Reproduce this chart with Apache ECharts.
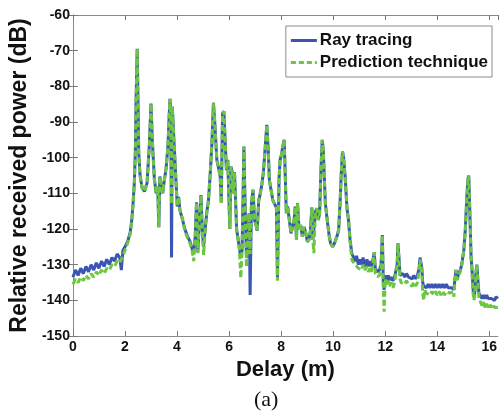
<!DOCTYPE html>
<html>
<head>
<meta charset="utf-8">
<title>Relative received power vs delay</title>
<script src="https://cdn.jsdelivr.net/npm/echarts@6/dist/echarts.min.js"></script>
<style>
  html, body { margin: 0; padding: 0; background: #ffffff; }
  #chart { width: 500px; height: 414px; }
</style>
</head>
<body>
<div id="chart"></div>
<script>
// Delay axis samples (m)
const delay = [
  0.00, 0.10, 0.20, 0.30, 0.40, 0.50, 0.60, 0.70, 0.80, 0.90,
  1.00, 1.10, 1.20, 1.30, 1.40, 1.50, 1.60, 1.70, 1.80, 1.86,
  1.92, 2.00, 2.10, 2.20, 2.26, 2.31, 2.36, 2.40, 2.43, 2.47,
  2.50, 2.53, 2.58, 2.66, 2.75, 2.85, 2.94, 3.00, 3.05, 3.13,
  3.20, 3.26, 3.30, 3.34, 3.40, 3.45, 3.51, 3.58, 3.65, 3.70,
  3.73, 3.76, 3.79, 3.82, 3.85, 3.88, 3.92, 3.97, 4.01, 4.06,
  4.11, 4.20, 4.30, 4.40, 4.50, 4.58, 4.64, 4.70, 4.75, 4.80,
  4.86, 4.92, 4.97, 5.02, 5.09, 5.15, 5.21, 5.28, 5.34, 5.40,
  5.45, 5.53, 5.60, 5.66, 5.70, 5.75, 5.80, 5.85, 5.90, 5.95,
  6.00, 6.03, 6.07, 6.12, 6.16, 6.21, 6.29, 6.35, 6.40, 6.45,
  6.50, 6.54, 6.57, 6.62, 6.67, 6.73, 6.77, 6.81, 6.86, 6.92,
  6.98, 7.04, 7.08, 7.14, 7.20, 7.26, 7.32, 7.36, 7.40, 7.45,
  7.50, 7.55, 7.62, 7.68, 7.74, 7.82, 7.86, 7.92, 7.96, 8.02,
  8.06, 8.12, 8.16, 8.20, 8.25, 8.30, 8.38, 8.44, 8.50, 8.54,
  8.59, 8.63, 8.69, 8.75, 8.82, 8.88, 8.95, 9.01, 9.07, 9.13,
  9.18, 9.22, 9.26, 9.32, 9.37, 9.43, 9.48, 9.53, 9.58, 9.62,
  9.66, 9.70, 9.78, 9.85, 9.90, 9.98, 10.05, 10.10, 10.15, 10.21,
  10.27, 10.32, 10.36, 10.40, 10.46, 10.53, 10.59, 10.65, 10.72, 10.78,
  10.85, 10.90, 10.97, 11.03, 11.10, 11.15, 11.22, 11.30, 11.35, 11.41,
  11.47, 11.52, 11.58, 11.62, 11.70, 11.78, 11.84, 11.89, 11.93, 11.96,
  12.00, 12.06, 12.12, 12.17, 12.23, 12.30, 12.36, 12.42, 12.46, 12.49,
  12.53, 12.57, 12.61, 12.68, 12.75, 12.82, 12.90, 12.97, 13.04, 13.10,
  13.17, 13.24, 13.30, 13.34, 13.37, 13.41, 13.44, 13.48, 13.52, 13.58,
  13.65, 13.72, 13.79, 13.86, 13.93, 14.00, 14.07, 14.14, 14.21, 14.28,
  14.35, 14.42, 14.49, 14.55, 14.60, 14.64, 14.68, 14.72, 14.77, 14.82,
  14.89, 14.95, 15.02, 15.08, 15.13, 15.18, 15.21, 15.24, 15.27, 15.30,
  15.33, 15.37, 15.40, 15.44, 15.48, 15.52, 15.56, 15.60, 15.66, 15.72,
  15.78, 15.84, 15.90, 15.96, 16.02, 16.08, 16.14, 16.20, 16.26, 16.33
];

// Ray tracing result (dB)
const rayTracing = [
  -133.5, -131.5, -133, -131, -132.5, -130.5, -132, -130, -131.5, -129.5,
  -131, -129, -130.5, -128.5, -130, -128, -129, -127, -128, -131.5,
  -126, -125, -123.5, -121, -117.5, -113, -107, -98, -83, -69.5,
  -84, -98.8, -105, -108.5, -109.5, -107, -96, -84.8, -95, -106,
  -110, -108, -119.5, -105.3, -108, -110, -106.5, -103, -97, -88,
  -83.5, -87, -128, -85.7, -86, -95, -100.6, -108, -113.7, -111,
  -114.7, -117, -120, -122, -123.5, -125.5, -127, -122, -112.5, -126.5,
  -118, -110.5, -120, -125, -119.4, -115, -111.9, -104, -96, -84.6,
  -90, -100.6, -103, -105.3, -112.5, -87.6, -87, -86.6, -103.5, -100.6,
  -112.8, -120, -102.5, -104, -110, -104, -120, -123, -125.5, -128,
  -126, -110, -96.9, -115, -128, -122, -115.6, -138.5, -113, -109,
  -117.5, -119, -120.5, -112, -110, -107.5, -104, -100, -96, -90.8,
  -97, -106.3, -105.8, -111.9, -112.8, -114, -134, -106, -100.6, -99,
  -96.9, -95, -105.3, -115.6, -113.7, -116.5, -121.2, -121, -117.5, -113.7,
  -123.1, -112.8, -120, -118.9, -122.2, -119.4, -121.2, -123.6, -123, -120.3,
  -114, -123.1, -123, -115.2, -114.2, -117.5, -115.6, -103.5, -95, -98,
  -105.3, -112.8, -118, -122, -124, -125, -124, -124.5, -122, -120.3,
  -112, -103, -98.3, -100, -105.3, -114, -117.5, -123, -127, -126.8,
  -129, -127.5, -130, -128.5, -130, -128, -130.6, -128.5, -130.5, -129,
  -130.5, -129, -126.5, -131, -132, -131.5, -130, -121.7, -136, -137,
  -133, -134.5, -133, -134.3, -133.5, -134.5, -133.5, -134, -130, -124,
  -128, -133, -133.4, -132.5, -133.5, -132.5, -133.5, -133, -134, -133,
  -134, -133, -131, -128, -127.8, -131, -135, -136, -135.5, -136.5,
  -135.5, -136.5, -135.5, -136.5, -135.5, -136.5, -135.5, -136.5, -135.5, -136.5,
  -135.5, -136.5, -136, -136.5, -136, -137, -134, -131.5, -134, -132.5,
  -131.5, -129.5, -126, -120, -112, -106, -105, -112, -120, -128,
  -130.6, -136, -139, -138, -133, -130, -134, -138, -138.5, -139.5,
  -138.5, -139.5, -138.5, -139.5, -139, -139.5, -139, -140, -139, -139.5
];

// Prediction technique result (dB)
const prediction = [
  -135.5, -134, -135, -133.5, -134.5, -133, -134, -132.5, -133.5, -132,
  -133, -131.5, -132.5, -131, -131.5, -130, -130.5, -129, -129.5, -128.5,
  -127.5, -126, -124, -121.5, -118, -113, -107, -98, -83, -69.5,
  -84, -98.8, -105, -108.5, -109.5, -107, -96, -84.8, -95, -106,
  -110, -108, -119.5, -105.3, -108, -110, -106.5, -103, -97, -88,
  -83.5, -87, -113, -85.7, -86, -95, -100.6, -108, -113.7, -111,
  -114.7, -117, -120.5, -122.5, -124, -126, -129, -122, -112.5, -126.8,
  -118, -110.5, -120, -127.3, -119.4, -115, -111.9, -104, -96, -84.6,
  -90, -100.6, -103, -105.3, -113, -87.6, -87, -86.6, -103.5, -100.6,
  -112.8, -120, -102.5, -104, -110, -104, -120, -123, -126, -133.8,
  -126, -110, -96.9, -115, -130.6, -122, -115.6, -127, -113, -109,
  -117.5, -119, -120.5, -112, -110, -107.5, -104, -100, -96, -90.8,
  -97, -106.3, -105.8, -111.9, -112.8, -114, -134.5, -106, -100.6, -99,
  -96.9, -95, -105.3, -115.6, -113.7, -116.5, -121.2, -121, -117.5, -113.7,
  -123.1, -112.8, -120, -118.9, -122.2, -119.4, -121.2, -123.6, -123, -120.3,
  -114, -123.1, -126.8, -115.2, -114.2, -117.5, -115.6, -103.5, -95, -98,
  -105.3, -112.8, -118, -122, -124, -125, -124, -124.5, -122, -120.3,
  -112, -103, -98.3, -100, -105.3, -114, -117.5, -123.5, -128.7, -128.5,
  -130, -129.5, -131, -130.5, -131.5, -130, -131.5, -130.5, -132, -131,
  -132, -130, -126.5, -132.4, -133.4, -133, -131, -121.7, -137, -143.2,
  -134, -136, -134.5, -136, -135, -136.5, -135, -135.5, -130, -124,
  -129, -134, -135, -134.5, -135.5, -134.5, -135.5, -135, -136, -135,
  -136, -135, -132, -128.5, -128, -132, -138, -140, -137, -138,
  -137.5, -138.5, -137.5, -138.5, -137.5, -138.5, -137.5, -138.5, -137.5, -138.5,
  -137.5, -138, -138, -138.5, -137.5, -139, -134.5, -131.5, -134.3, -133,
  -132, -130, -126, -120, -112, -106, -105, -112, -120, -128,
  -131, -137, -140, -139, -133, -130, -135, -139, -140.5, -141.5,
  -140.5, -142, -141, -142, -141, -142, -141, -142, -141.5, -142
];

// Axis ranges and tick spacing
const delayRange = [0, 16.33];
const delayStep = 2;
const powerRange = [-150, -60];
const powerStep = 10;

const seriesNames = ['Ray tracing', 'Prediction technique'];

const pairs = (vals) => delay.map((d, i) => [d, vals[i]]);

const boldFont = '"Liberation Sans", Arial, Helvetica, sans-serif';
const frameColor = '#8a8a8a';
const blue = '#3a55b4';
const green = '#6cc641';

// Legend keys: a solid stroke and a dashed stroke drawn as filled paths
const solidKey = 'path://M0,0 H26 V3 H0 Z';
const dashedKey = 'path://M0,0 H5 V3 H0 Z M8,0 H13 V3 H8 Z M16,0 H21 V3 H16 Z M24,0 H26 V3 H24 Z';

const chart = echarts.init(document.getElementById('chart'), null, { renderer: 'canvas' });

const frameAxis = {
  axisLine: { show: true, lineStyle: { color: frameColor, width: 1 } },
  axisTick: { show: true, inside: true, length: 5, lineStyle: { color: '#777777', width: 1 } },
  splitLine: { show: false }
};

chart.setOption({
  animation: false,
  backgroundColor: '#ffffff',
  grid: { left: 69, right: 0, top: 15, bottom: 78, containLabel: false },
  legend: {
    data: [
      { name: seriesNames[0], icon: solidKey },
      { name: seriesNames[1], icon: dashedKey }
    ],
    orient: 'vertical',
    right: 8,
    top: 26,
    padding: [6, 4, 6, 5],
    itemGap: 5,
    itemWidth: 26,
    itemHeight: 3,
    backgroundColor: '#ffffff',
    borderColor: '#8a8a8a',
    borderWidth: 1,
    borderRadius: 0,
    textStyle: { fontFamily: boldFont, fontWeight: 'bold', fontSize: 17, color: '#111111', padding: [0, 0, 0, -2] }
  },
  xAxis: [
    Object.assign({
      type: 'value',
      min: delayRange[0],
      max: delayRange[1],
      interval: delayStep,
      position: 'bottom',
      name: 'Delay (m)',
      nameLocation: 'middle',
      nameGap: 21,
      nameTextStyle: { fontFamily: boldFont, fontWeight: 'bold', fontSize: 22, color: '#111111' },
      axisLabel: { fontFamily: boldFont, fontWeight: 'bold', fontSize: 14, color: '#111111', margin: 4, showMaxLabel: false }
    }, frameAxis),
    Object.assign({
      type: 'value',
      min: delayRange[0],
      max: delayRange[1],
      interval: delayStep,
      position: 'top',
      axisLabel: { show: false }
    }, frameAxis)
  ],
  yAxis: [
    Object.assign({
      type: 'value',
      min: powerRange[0],
      max: powerRange[1],
      interval: powerStep,
      position: 'left',
      name: 'Relative received power (dB)',
      nameLocation: 'middle',
      nameGap: 33,
      nameRotate: 90,
      nameTextStyle: { fontFamily: boldFont, fontWeight: 'bold', fontSize: 23, color: '#111111' },
      axisLabel: { fontFamily: boldFont, fontWeight: 'bold', fontSize: 14, color: '#111111', margin: 3 }
    }, frameAxis),
    Object.assign({
      type: 'value',
      min: powerRange[0],
      max: powerRange[1],
      interval: powerStep,
      position: 'right',
      axisLabel: { show: false }
    }, frameAxis)
  ],
  series: [
    {
      name: seriesNames[0],
      type: 'line',
      data: pairs(rayTracing),
      symbol: 'none',
      color: blue,
      lineStyle: { color: blue, width: 3, type: 'solid' },
      z: 2
    },
    {
      name: seriesNames[1],
      type: 'line',
      data: pairs(prediction),
      symbol: 'none',
      color: green,
      lineStyle: { color: green, width: 3, type: [6, 3] },
      z: 3
    }
  ],
  graphic: [
    {
      type: 'text',
      x: 254,
      y: 389,
      style: { text: '(a)', font: '22px "Liberation Serif", "Times New Roman", serif', fill: '#111111' }
    }
  ]
});
</script>
</body>
</html>
